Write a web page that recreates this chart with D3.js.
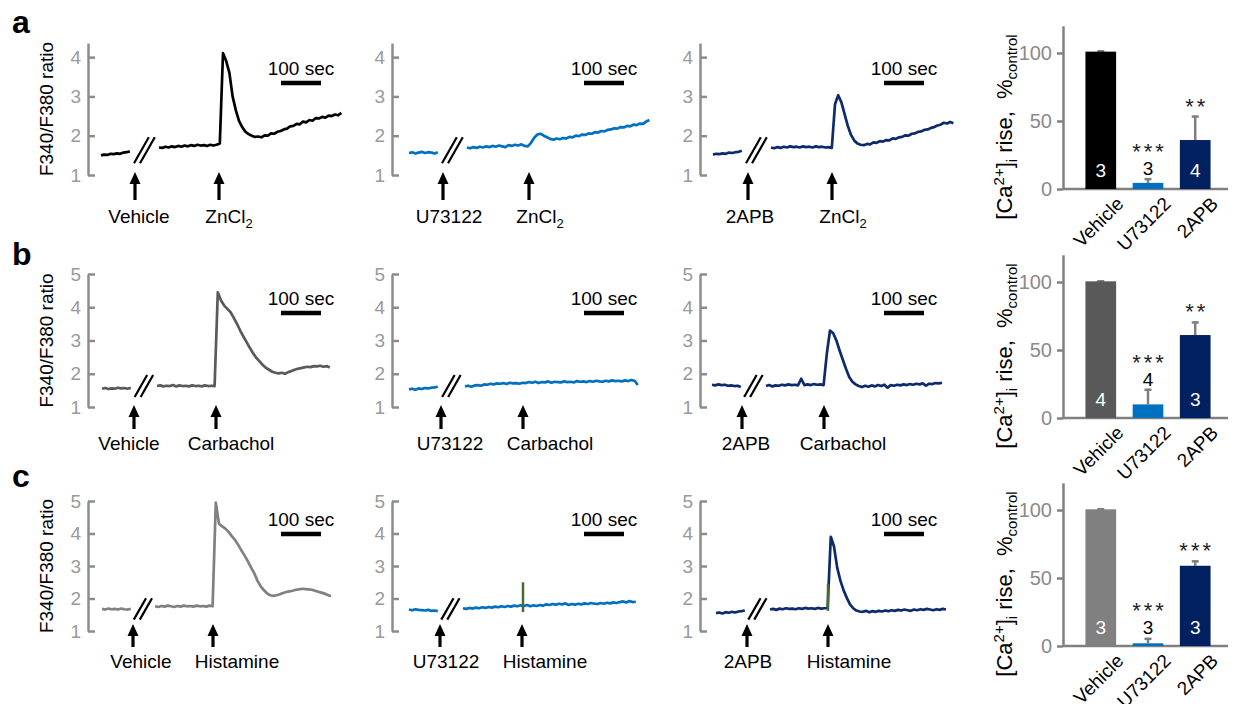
<!DOCTYPE html>
<html>
<head>
<meta charset="utf-8">
<script src="https://cdn.jsdelivr.net/npm/d3@7"></script>
<style>
  body { margin: 0; background: #fff; }
  svg text { font-family: "Liberation Sans", Arial, sans-serif; }
</style>
</head>
<body>
<svg width="1235" height="704"></svg>
<script>
// ---- data ----------------------------------------------------------
var STEP = 8;                 // seconds between samples in the traces
var treatments = ["Vehicle", "U73122", "2APB"];
var agonists = ["ZnCl2", "Carbachol", "Histamine"];
var traceTicksA = [1, 2, 3, 4];
var traceTicksBC = [1, 2, 3, 4, 5];
var barTicks = [0, 50, 100];

// row a: ZnCl2
var preA1 = [1.50,1.52,1.51,1.54,1.53,1.55,1.54,1.57,1.58,1.60];
var postA1 = [1.70,1.69,1.72,1.70,1.73,1.71,1.74,1.72,1.75,1.73,1.76,1.74,1.77,1.75,1.76,1.74,1.77,1.75,1.77,1.80,
  4.10,3.90,3.60,3.00,2.65,2.38,2.22,2.10,2.04,2.00,1.97,1.98,1.96,2.01,2.00,2.06,2.05,2.10,2.12,2.16,
  2.18,2.24,2.25,2.30,2.29,2.36,2.34,2.40,2.38,2.45,2.44,2.48,2.46,2.51,2.50,2.54,2.52,2.58];
var preA2 = [1.56,1.58,1.55,1.57,1.59,1.56,1.58,1.57,1.55,1.58];
var postA2 = [1.70,1.68,1.71,1.69,1.72,1.70,1.73,1.71,1.74,1.72,1.75,1.73,1.71,1.76,1.74,1.77,1.75,1.78,1.74,1.73,
  1.82,1.95,2.03,2.05,2.00,1.96,1.92,1.90,1.93,1.91,1.94,1.93,1.97,1.96,2.00,1.99,2.03,2.02,2.06,2.05,
  2.09,2.08,2.12,2.11,2.15,2.16,2.19,2.18,2.22,2.21,2.25,2.24,2.28,2.27,2.31,2.30,2.36,2.40];
var preA3 = [1.52,1.54,1.53,1.55,1.54,1.57,1.56,1.58,1.59,1.62];
var postA3 = [1.70,1.68,1.71,1.69,1.72,1.70,1.73,1.71,1.72,1.70,1.73,1.71,1.72,1.70,1.73,1.71,1.72,1.70,1.71,1.69,
  2.80,3.03,2.85,2.55,2.25,2.02,1.88,1.80,1.77,1.76,1.79,1.78,1.83,1.82,1.86,1.85,1.89,1.88,1.93,1.92,
  1.96,1.97,2.01,2.00,2.05,2.06,2.10,2.11,2.15,2.16,2.20,2.22,2.26,2.28,2.33,2.31,2.35,2.32];

// row b: Carbachol
var preB1 = [1.55,1.57,1.54,1.56,1.55,1.58,1.56,1.57,1.55,1.58];
var postB1 = [1.63,1.65,1.62,1.64,1.63,1.66,1.62,1.65,1.63,1.64,1.62,1.65,1.63,1.64,1.62,1.65,1.63,1.64,1.63,4.45,
  4.20,4.05,3.95,3.85,3.68,3.50,3.30,3.12,2.95,2.78,2.62,2.48,2.38,2.27,2.18,2.12,2.06,2.03,2.01,2.03,
  2.00,2.05,2.08,2.12,2.15,2.17,2.19,2.21,2.20,2.23,2.22,2.24,2.21,2.23,2.19];
var preB2 = [1.53,1.55,1.52,1.56,1.54,1.57,1.56,1.58,1.59,1.61];
var postB2 = [1.62,1.64,1.61,1.65,1.66,1.64,1.68,1.67,1.70,1.68,1.71,1.70,1.72,1.69,1.73,1.71,1.72,1.70,1.73,1.72,
  1.75,1.73,1.76,1.72,1.75,1.74,1.77,1.73,1.76,1.75,1.74,1.77,1.75,1.76,1.74,1.78,1.76,1.77,1.75,1.78,
  1.76,1.79,1.77,1.76,1.79,1.77,1.80,1.78,1.79,1.77,1.80,1.78,1.81,1.79,1.66];
var preB3 = [1.67,1.65,1.68,1.66,1.67,1.64,1.65,1.63,1.64,1.60];
var postB3 = [1.63,1.66,1.62,1.65,1.64,1.67,1.65,1.68,1.66,1.67,1.65,1.85,1.66,1.68,1.66,1.69,1.67,1.68,1.66,2.60,
  3.30,3.22,3.00,2.70,2.42,2.15,1.90,1.76,1.68,1.63,1.60,1.64,1.61,1.65,1.62,1.66,1.63,1.67,1.58,1.66,
  1.64,1.67,1.65,1.68,1.66,1.69,1.67,1.70,1.68,1.71,1.64,1.70,1.69,1.72,1.71,1.73];

// row c: Histamine
var preC1 = [1.68,1.66,1.69,1.67,1.68,1.66,1.69,1.67,1.66,1.68];
var postC1 = [1.76,1.74,1.77,1.75,1.78,1.76,1.74,1.77,1.75,1.78,1.76,1.77,1.75,1.78,1.76,1.77,1.75,1.78,1.76,4.95,
  4.30,4.22,4.15,4.05,3.92,3.80,3.65,3.48,3.32,3.15,2.96,2.78,2.55,2.38,2.26,2.16,2.10,2.08,2.10,2.13,
  2.17,2.20,2.22,2.24,2.27,2.28,2.30,2.29,2.28,2.27,2.24,2.21,2.18,2.15,2.11,2.07];
var preC2 = [1.66,1.64,1.67,1.65,1.64,1.63,1.65,1.62,1.63,1.61];
var postC2 = [1.70,1.68,1.71,1.69,1.72,1.70,1.73,1.71,1.74,1.72,1.75,1.73,1.76,1.74,1.77,1.75,1.78,1.76,1.79,1.77,
  1.80,1.76,1.79,1.77,1.80,1.78,1.82,1.80,1.83,1.81,1.84,1.82,1.85,1.80,1.83,1.81,1.84,1.82,1.85,1.83,
  1.86,1.84,1.83,1.86,1.84,1.87,1.85,1.88,1.86,1.89,1.91,1.88,1.92,1.89,1.90];
var preC3 = [1.55,1.57,1.54,1.58,1.56,1.59,1.57,1.60,1.61,1.63];
var postC3 = [1.66,1.68,1.65,1.69,1.67,1.70,1.68,1.69,1.67,1.70,1.68,1.71,1.69,1.70,1.68,1.71,1.69,1.70,1.70,3.90,
  3.60,2.95,2.55,2.25,2.02,1.82,1.70,1.63,1.60,1.59,1.62,1.58,1.61,1.59,1.62,1.60,1.63,1.61,1.64,1.62,
  1.65,1.63,1.66,1.64,1.62,1.66,1.64,1.67,1.65,1.68,1.66,1.64,1.67,1.65,1.68,1.66];

// stimulus artefacts seen at agonist addition: [time s, low, high]
var artefactC2 = [285, 1.58, 2.5];
var artefactC3 = [280, 1.62, 2.45];

// bar summaries (% of control), error (SEM), n, significance
var riseA = [101, 4.5, 36],  semA = [1, 3.5, 18];
var riseB = [100.5, 10, 61], semB = [0.8, 11.5, 10];
var riseC = [100.5, 2, 59],  semC = [0.8, 4, 4];
var nA = [3, 3, 4], nB = [4, 4, 3], nC = [3, 3, 3];
var sigA = ["", "***", "**"], sigB = ["", "***", "**"], sigC = ["", "***", "***"];

// ---- layout --------------------------------------------------------
var svg = d3.select("svg");
var pxPerSec = 0.4;               // 100 sec = 40 px
var axisXs = [88, 392, 700];
var scaleBarXs = [281, 584, 884];
var navyTrace = "#0e2a6c";
var col = { blue: "#0070c0", navy: "#002060", axis: "#8c8c8c", tick: "#9a9a9a" };

var rowsCfg = [
  { letter: "a", letterY: 33, yDomain: [1, 4.36], yRange: [175, 43], ticks: traceTicksA,
    arrowTip: 172, arrowBot: 200, labelY: 223, scaleY: 83, breakV: 1.63, barZero: 189,
    vehColor: "#000000", rise: riseA, sem: semA, n: nA, sig: sigA },
  { letter: "b", letterY: 265, yDomain: [1, 5], yRange: [407, 274], ticks: traceTicksBC,
    arrowTip: 405, arrowBot: 429, labelY: 450, scaleY: 313, breakV: 1.63, barZero: 418,
    vehColor: "#595959", rise: riseB, sem: semB, n: nB, sig: sigB },
  { letter: "c", letterY: 487, yDomain: [1, 5], yRange: [631, 501], ticks: traceTicksBC,
    arrowTip: 624, arrowBot: 647, labelY: 668, scaleY: 534, breakV: 1.68, barZero: 646,
    vehColor: "#808080", rise: riseC, sem: semC, n: nC, sig: sigC }
];

var panels = [
  { row: 0, col: 0, x0: 101, tPost: 145,   pre: preA1, post: postA1, color: "#000000", stim: [85, 295],    dx: [4, 10] },
  { row: 0, col: 1, x0: 409, tPost: 145,   pre: preA2, post: postA2, color: col.blue,  stim: [85, 300],    dx: [6, 11] },
  { row: 0, col: 2, x0: 713, tPost: 145,   pre: preA3, post: postA3, color: navyTrace, stim: [87.5, 297.5], dx: [2, 11] },
  { row: 1, col: 0, x0: 102, tPost: 137.5, pre: preB1, post: postB1, color: "#5a5a5a", stim: [80, 285],    dx: [-5, 15] },
  { row: 1, col: 1, x0: 409, tPost: 140,   pre: preB2, post: postB2, color: col.blue,  stim: [80, 285],    dx: [9, 27] },
  { row: 1, col: 2, x0: 712, tPost: 135,   pre: preB3, post: postB3, color: navyTrace, stim: [75, 280],    dx: [4, 19] },
  { row: 2, col: 0, x0: 102, tPost: 132.5, pre: preC1, post: postC1, color: "#808080", stim: [77.5, 277.5], dx: [8, 24] },
  { row: 2, col: 1, x0: 409, tPost: 135,   pre: preC2, post: postC2, color: col.blue,  stim: [77.5, 282.5], dx: [6, 23], artefact: artefactC2 },
  { row: 2, col: 2, x0: 716, tPost: 135,   pre: preC3, post: postC3, color: navyTrace, stim: [77.5, 280],  dx: [1, 21], artefact: artefactC3 }
];

// ---- helpers -------------------------------------------------------
function drawLabel(g, txt, x, y) {
  var t = g.append("text").attr("x", x).attr("y", y)
    .attr("text-anchor", "middle").attr("font-size", 19).attr("fill", "#000");
  if (txt === "ZnCl2") {
    t.append("tspan").text("ZnCl");
    t.append("tspan").attr("font-size", 13).attr("dy", 5).text("2");
  } else {
    t.text(txt);
  }
}

function arrowPath(x, tip, bot) {
  var hh = 12, hw = 5.5, sw = 1.6;
  return "M" + (x - sw) + "," + (tip + hh) + "L" + (x - sw) + "," + bot + "L" + (x + sw) + "," + bot +
    "L" + (x + sw) + "," + (tip + hh) + "L" + (x + hw) + "," + (tip + hh) + "L" + x + "," + tip +
    "L" + (x - hw) + "," + (tip + hh) + "Z";
}

// ---- panel letters -------------------------------------------------
rowsCfg.forEach(function(r) {
  svg.append("text").attr("x", 12).attr("y", r.letterY)
    .attr("font-size", 32).attr("font-weight", "bold").text(r.letter);
});

// ---- traces --------------------------------------------------------
panels.forEach(function(p) {
  var r = rowsCfg[p.row];
  var g = svg.append("g");
  var x = d3.scaleLinear().domain([0, 1]).range([p.x0, p.x0 + pxPerSec]);
  var y = d3.scaleLinear().domain(r.yDomain).range(r.yRange);

  // axis with inward ticks
  var ax = g.append("g").attr("transform", "translate(" + axisXs[p.col] + ",0)")
    .call(d3.axisLeft(y).tickValues(r.ticks).tickFormat(d3.format("d"))
      .tickSizeInner(-7).tickSizeOuter(0).tickPadding(7));
  ax.selectAll("path, line").attr("stroke", col.axis).attr("stroke-width", 2.5);
  ax.selectAll("text").attr("fill", col.tick).attr("font-size", 19)
    .attr("font-family", "Liberation Sans, Arial, sans-serif");

  if (p.col === 0) {
    var mid = (r.yRange[0] + r.yRange[1]) / 2;
    g.append("text").attr("transform", "translate(53," + mid + ") rotate(-90)")
      .attr("text-anchor", "middle").attr("font-size", 19).text("F340/F380 ratio");
  }

  var line = d3.line().x(function(d) { return x(d[0]); }).y(function(d) { return y(d[1]); });
  var preData = p.pre.map(function(v, i) { return [i * STEP, v]; });
  var postData = p.post.map(function(v, i) { return [p.tPost + i * STEP, v]; });

  [preData, postData].forEach(function(d) {
    g.append("path").datum(d).attr("d", line).attr("fill", "none")
      .attr("stroke", p.color).attr("stroke-width", 2.7).attr("stroke-linejoin", "round");
  });

  if (p.artefact) {
    g.append("line").attr("x1", x(p.artefact[0])).attr("x2", x(p.artefact[0]))
      .attr("y1", y(p.artefact[1])).attr("y2", y(p.artefact[2]))
      .attr("stroke", "#4b6a2c").attr("stroke-width", 2.5);
  }

  // break mark between the two segments
  var bx = (x(preData[preData.length - 1][0]) + x(p.tPost)) / 2;
  var by = y(r.breakV);
  var hy = (r.yRange[0] - y(1.33));
  var hx = hy * 0.57;
  [-3, 3].forEach(function(o) {
    g.append("line").attr("x1", bx + o - hx).attr("y1", by + hy)
      .attr("x2", bx + o + hx).attr("y2", by - hy)
      .attr("stroke", "#000").attr("stroke-width", 2.2);
  });

  // stimulus arrows and labels
  var names = [treatments[p.col], agonists[p.row]];
  p.stim.forEach(function(t, i) {
    var ax0 = x(t);
    g.append("path").attr("d", arrowPath(ax0, r.arrowTip, r.arrowBot)).attr("fill", "#000");
    drawLabel(g, names[i], ax0 + p.dx[i], r.labelY);
  });

  // scale bar
  var sx = scaleBarXs[p.col];
  g.append("line").attr("x1", sx).attr("x2", sx + 100 * pxPerSec)
    .attr("y1", r.scaleY).attr("y2", r.scaleY).attr("stroke", "#000").attr("stroke-width", 4.5);
  g.append("text").attr("x", sx + 50 * pxPerSec).attr("y", r.scaleY - 8)
    .attr("text-anchor", "middle").attr("font-size", 19).text("100 sec");
});

// ---- bar charts ----------------------------------------------------
var barAxisX = 1063;
var xBar = d3.scaleBand().domain(treatments).range([1076, 1220]).paddingInner(0.35).paddingOuter(0.2);

rowsCfg.forEach(function(r) {
  var g = svg.append("g");
  var yBar = d3.scaleLinear().domain([0, 120]).range([r.barZero, r.barZero - 163.2]);
  var colors = [r.vehColor, col.blue, col.navy];

  var ax = g.append("g").attr("transform", "translate(" + barAxisX + ",0)")
    .call(d3.axisLeft(yBar).tickValues(barTicks).tickSizeInner(6).tickSizeOuter(0).tickPadding(5));
  ax.selectAll("path, line").attr("stroke", "#808080").attr("stroke-width", 2.5);
  ax.selectAll("text").attr("fill", "#8a8a8a").attr("font-size", 20)
    .attr("font-family", "Liberation Sans, Arial, sans-serif");
  g.append("line").attr("x1", barAxisX).attr("x2", 1228)
    .attr("y1", r.barZero).attr("y2", r.barZero).attr("stroke", "#808080").attr("stroke-width", 2.5);

  // error bars first, bars over them
  treatments.forEach(function(t, i) {
    var cx = xBar(t) + xBar.bandwidth() / 2;
    var top = yBar(r.rise[i] + r.sem[i]);
    g.append("line").attr("x1", cx).attr("x2", cx).attr("y1", yBar(r.rise[i])).attr("y2", top)
      .attr("stroke", "#7f7f7f").attr("stroke-width", 2.5);
    g.append("line").attr("x1", cx - 3.5).attr("x2", cx + 3.5).attr("y1", top + 1).attr("y2", top + 1)
      .attr("stroke", "#7f7f7f").attr("stroke-width", 2.5);
  });

  g.selectAll("rect").data(r.rise).join("rect")
    .attr("x", function(d, i) { return xBar(treatments[i]); })
    .attr("width", xBar.bandwidth())
    .attr("y", function(d) { return yBar(d); })
    .attr("height", function(d) { return r.barZero - yBar(d); })
    .attr("fill", function(d, i) { return colors[i]; });

  treatments.forEach(function(t, i) {
    var cx = xBar(t) + xBar.bandwidth() / 2;
    var errTop = yBar(r.rise[i] + r.sem[i]);
    var inside = r.rise[i] > 25;
    var nb = inside ? r.barZero - 12.5 : Math.min(r.barZero - 12.5, errTop - 3);
    g.append("text").attr("x", cx).attr("y", nb).attr("text-anchor", "middle")
      .attr("font-size", 19).attr("fill", inside ? "#fff" : "#000").text(r.n[i]);
    if (r.sig[i]) {
      var sb = inside ? errTop - 2 : nb - 16;
      g.append("text").attr("x", cx + 1.5).attr("y", sb).attr("text-anchor", "middle")
        .attr("font-size", 22).attr("letter-spacing", 3).attr("fill", "#222").text(r.sig[i]);
    }
    g.append("text")
      .attr("transform", "translate(" + (cx + 24) + "," + (r.barZero + 16) + ") rotate(-45)")
      .attr("text-anchor", "end").attr("font-size", 19).text(t);
  });

  // y title
  var tt = g.append("text")
    .attr("transform", "translate(1012," + (r.barZero - 62) + ") rotate(-90)")
    .attr("text-anchor", "middle").attr("font-size", 22);
  tt.append("tspan").text("[Ca");
  tt.append("tspan").attr("font-size", 15).attr("dy", -8).text("2+");
  tt.append("tspan").attr("dy", 8).text("]");
  tt.append("tspan").attr("font-size", 15).attr("dy", 5).text("i");
  tt.append("tspan").attr("dy", -5).text(" rise,\u00a0 %");
  tt.append("tspan").attr("font-size", 15).attr("dy", 5).text("control");
});
</script>
</body>
</html>
